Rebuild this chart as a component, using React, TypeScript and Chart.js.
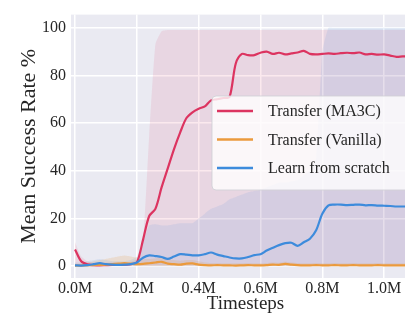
import React, { useEffect, useRef } from "react";
import { Chart, registerables } from "chart.js";

Chart.register(...registerables);

// Timesteps in millions, sampled every 0.02M
const timesteps: number[] = [
  0.0, 0.02, 0.04, 0.06, 0.08, 0.1, 0.12, 0.14, 0.16, 0.18,
  0.2, 0.22, 0.24, 0.26, 0.28, 0.3, 0.32, 0.34, 0.36, 0.38,
  0.4, 0.42, 0.44, 0.46, 0.48, 0.5, 0.52, 0.54, 0.56, 0.58,
  0.6, 0.62, 0.64, 0.66, 0.68, 0.7, 0.72, 0.74, 0.76, 0.78,
  0.8, 0.82, 0.84, 0.86, 0.88, 0.9, 0.92, 0.94, 0.96, 0.98,
  1.0, 1.02, 1.04, 1.06, 1.08,
];

// Mean success rate (%) per method
const ma3cMean: number[] = [
  7, 2, 0.7, 0.4, 0.3, 0.4, 0.5, 0.5, 0.6, 0.8,
  1.5, 11, 21, 24, 33, 41, 49, 56, 62, 64.5,
  66, 67, 69.5, 70, 70.5, 71, 85, 89, 88.5, 88.5,
  89.5, 90, 89, 89.5, 88.8, 89.2, 89.6, 90.3, 89, 88.8,
  89, 89.2, 89, 89.3, 89.5, 89.3, 89.6, 88.8, 89, 88.7,
  88.8, 88.3, 87.8, 88, 88,
];
const vanillaMean: number[] = [
  0.2, 0.2, 0.3, 0.4, 0.5, 0.6, 0.8, 1.0, 1.2, 1.0,
  0.8, 0.9, 1.2, 1.5, 1.8, 1.0, 0.8, 0.6, 1.0, 1.1,
  0.6, 0.4, 0.3, 0.4, 0.3, 0.3, 0.2, 0.3, 0.4, 0.3,
  0.3, 0.4, 0.6, 0.5, 0.9, 0.6, 0.4, 0.3, 0.3, 0.4,
  0.3, 0.3, 0.4, 0.3, 0.3, 0.4, 0.3, 0.3, 0.3, 0.4,
  0.3, 0.3, 0.3, 0.3, 0.3,
];
const scratchMean: number[] = [
  0.3, 0.2, 0.4, 0.8, 1.2, 0.8, 0.6, 0.5, 0.6, 0.8,
  1.5, 3.5, 4.5, 4.2, 3.8, 3.0, 4.0, 5.0, 4.8, 4.5,
  4.5, 5.0, 5.7, 4.8, 4.2, 3.6, 3.2, 3.2, 3.8, 4.6,
  5.0, 6.5, 7.7, 8.8, 9.6, 9.8, 8.5, 10, 11.5, 15,
  22, 25.5, 25.8, 25.8, 25.6, 25.7, 25.8, 25.5, 25.6, 25.4,
  25.3, 25.2, 25, 25, 25,
];

// Upper edge of the spread band per method (lower edge sits at 0)
const ma3cUpper: number[] = [
  10, 4, 2, 1.5, 1.5, 1.5, 1.5, 1.5, 1.5, 1.8,
  3, 10, 55, 93, 98.5, 99, 99, 99, 99, 99,
  99, 99, 99, 99, 99, 99, 99, 99, 99, 99,
  99, 99, 99, 99, 99, 99, 99, 99, 99, 99,
  99, 99, 99, 99, 99, 99, 99, 99, 99, 99,
  99, 99, 99, 99, 99,
];
const vanillaUpper: number[] = [
  1, 1, 1.5, 2, 2.5, 3, 3.5, 4, 4.4, 4,
  3.5, 3, 3, 3.2, 3.5, 3, 2.5, 2.2, 2.5, 2.5,
  2, 1.5, 1.3, 1.3, 1.2, 1.2, 1.2, 1.2, 1.3, 1.2,
  1.2, 1.3, 1.5, 1.4, 1.8, 1.5, 1.3, 1.2, 1.2, 1.3,
  1.2, 1.2, 1.3, 1.2, 1.2, 1.3, 1.2, 1.2, 1.2, 1.3,
  1.2, 1.2, 1.2, 1.2, 1.2,
];
const scratchUpper: number[] = [
  1.5, 1.5, 2, 2.5, 3, 2.5, 2, 2, 2, 2.5,
  4, 10, 17, 17.5, 17, 17, 17.5, 18, 18, 18,
  20, 22, 24, 25, 26, 28, 29, 30, 31, 31.5,
  32, 33, 34, 35, 35, 35.5, 36, 38, 40, 45,
  90, 100, 100, 100, 100, 100, 100, 100, 100, 100,
  100, 100, 100, 100, 100,
];

const seriesLabels: string[] = ["Transfer (MA3C)", "Transfer (Vanilla)", "Learn from scratch"];
const seriesColors: string[] = ["#dc3460", "#eb9a3c", "#3d8bdc"];
const bandColors: string[] = [
  "rgba(220, 52, 96, 0.11)",
  "rgba(235, 154, 60, 0.18)",
  "rgba(61, 139, 220, 0.11)",
];

const xTickValues: number[] = [0, 0.2, 0.4, 0.6, 0.8, 1.0];
const xTickLabels: string[] = ["0.0M", "0.2M", "0.4M", "0.6M", "0.8M", "1.0M"];
const yTickValues: number[] = [0, 20, 40, 60, 80, 100];

const FONT = "'Liberation Serif', 'Times New Roman', serif";

const toPoints = (ys: number[]) => timesteps.map((x, i) => ({ x, y: ys[i] }));

// Shaded seaborn-style plotting area
const backgroundPlugin = {
  id: "plotBackground",
  beforeDraw(chart: any) {
    const { ctx, chartArea } = chart;
    ctx.save();
    ctx.fillStyle = "#eaeaf2";
    ctx.fillRect(chartArea.left, chartArea.top, chartArea.right - chartArea.left, chartArea.bottom - chartArea.top);
    ctx.restore();
  },
};

// Legend box drawn inside the plot area
const legendPlugin = {
  id: "insideLegend",
  afterDraw(chart: any) {
    const { ctx } = chart;
    const boxX = 212;
    const boxY = 96;
    const boxW = 220;
    const boxH = 94;
    ctx.save();
    ctx.beginPath();
    ctx.roundRect(boxX, boxY, boxW, boxH, 4);
    ctx.fillStyle = "rgba(255, 255, 255, 0.8)";
    ctx.fill();
    ctx.strokeStyle = "rgba(210, 210, 215, 0.9)";
    ctx.lineWidth = 1;
    ctx.stroke();
    ctx.font = `16px ${FONT}`;
    ctx.textBaseline = "middle";
    ctx.textAlign = "left";
    seriesLabels.forEach((label, i) => {
      const y = boxY + 15 + i * 28.5;
      ctx.beginPath();
      ctx.moveTo(boxX + 5, y);
      ctx.lineTo(boxX + 41, y);
      ctx.strokeStyle = seriesColors[i];
      ctx.lineWidth = 2.5;
      ctx.stroke();
      ctx.fillStyle = "#262626";
      ctx.fillText(label, boxX + 56, y + 1);
    });
    ctx.restore();
  },
};

export default function App() {
  const canvasRef = useRef<HTMLCanvasElement | null>(null);

  useEffect(() => {
    if (!canvasRef.current) return;
    const means = [ma3cMean, vanillaMean, scratchMean];
    const uppers = [ma3cUpper, vanillaUpper, scratchUpper];

    const bandSets = uppers.map((u, i) => ({
      label: `${seriesLabels[i]} band`,
      data: toPoints(u),
      borderWidth: 0,
      pointRadius: 0,
      backgroundColor: bandColors[i],
      fill: "origin",
      tension: 0.15,
      order: 6 - i,
    }));
    const lineSets = means.map((m, i) => ({
      label: seriesLabels[i],
      data: toPoints(m),
      borderColor: seriesColors[i],
      borderWidth: 2.2,
      pointRadius: 0,
      fill: false,
      tension: 0.3,
      order: 3 - i,
    }));

    const chart = new Chart(canvasRef.current, {
      type: "line",
      data: { datasets: [...bandSets, ...lineSets] as any },
      options: {
        animation: false,
        responsive: false,
        layout: { padding: { top: 5, right: 0, bottom: 0, left: 0 } },
        plugins: { legend: { display: false }, tooltip: { enabled: false } },
        scales: {
          x: {
            type: "linear",
            min: -0.013,
            max: 1.116,
            afterBuildTicks: (scale: any) => {
              scale.ticks = xTickValues.map((value) => ({ value }));
            },
            afterFit: (scale: any) => {
              scale.height = 46;
            },
            grid: { color: "#ffffff", lineWidth: 1.5, drawTicks: false },
            border: { display: false },
            ticks: {
              padding: 1,
              color: "#262626",
              font: { family: FONT, size: 16 },
              callback: (_v: any, i: number) => xTickLabels[i],
            },
            title: {
              display: true,
              text: "Timesteps",
              color: "#262626",
              font: { family: FONT, size: 19 },
              padding: { top: 0, bottom: 9 },
            },
          },
          y: {
            type: "linear",
            min: -5,
            max: 105.5,
            afterBuildTicks: (scale: any) => {
              scale.ticks = yTickValues.map((value) => ({ value }));
            },
            afterFit: (scale: any) => {
              scale.width = 71;
            },
            grid: { color: "#ffffff", lineWidth: 1.5, drawTicks: false },
            border: { display: false },
            ticks: {
              padding: 5,
              color: "#262626",
              font: { family: FONT, size: 16 },
            },
            title: {
              display: true,
              text: "Mean Success Rate %",
              color: "#262626",
              font: { family: FONT, size: 22 },
              padding: { top: 16, bottom: 0 },
            },
          },
        },
      },
      plugins: [backgroundPlugin, legendPlugin],
    });

    return () => chart.destroy();
  }, []);

  return (
    <div style={{ position: "absolute", left: 0, top: 0, width: 405, height: 324, overflow: "hidden", background: "#ffffff" }}>
      <canvas ref={canvasRef} width={420} height={324} style={{ display: "block" }} />
    </div>
  );
}
